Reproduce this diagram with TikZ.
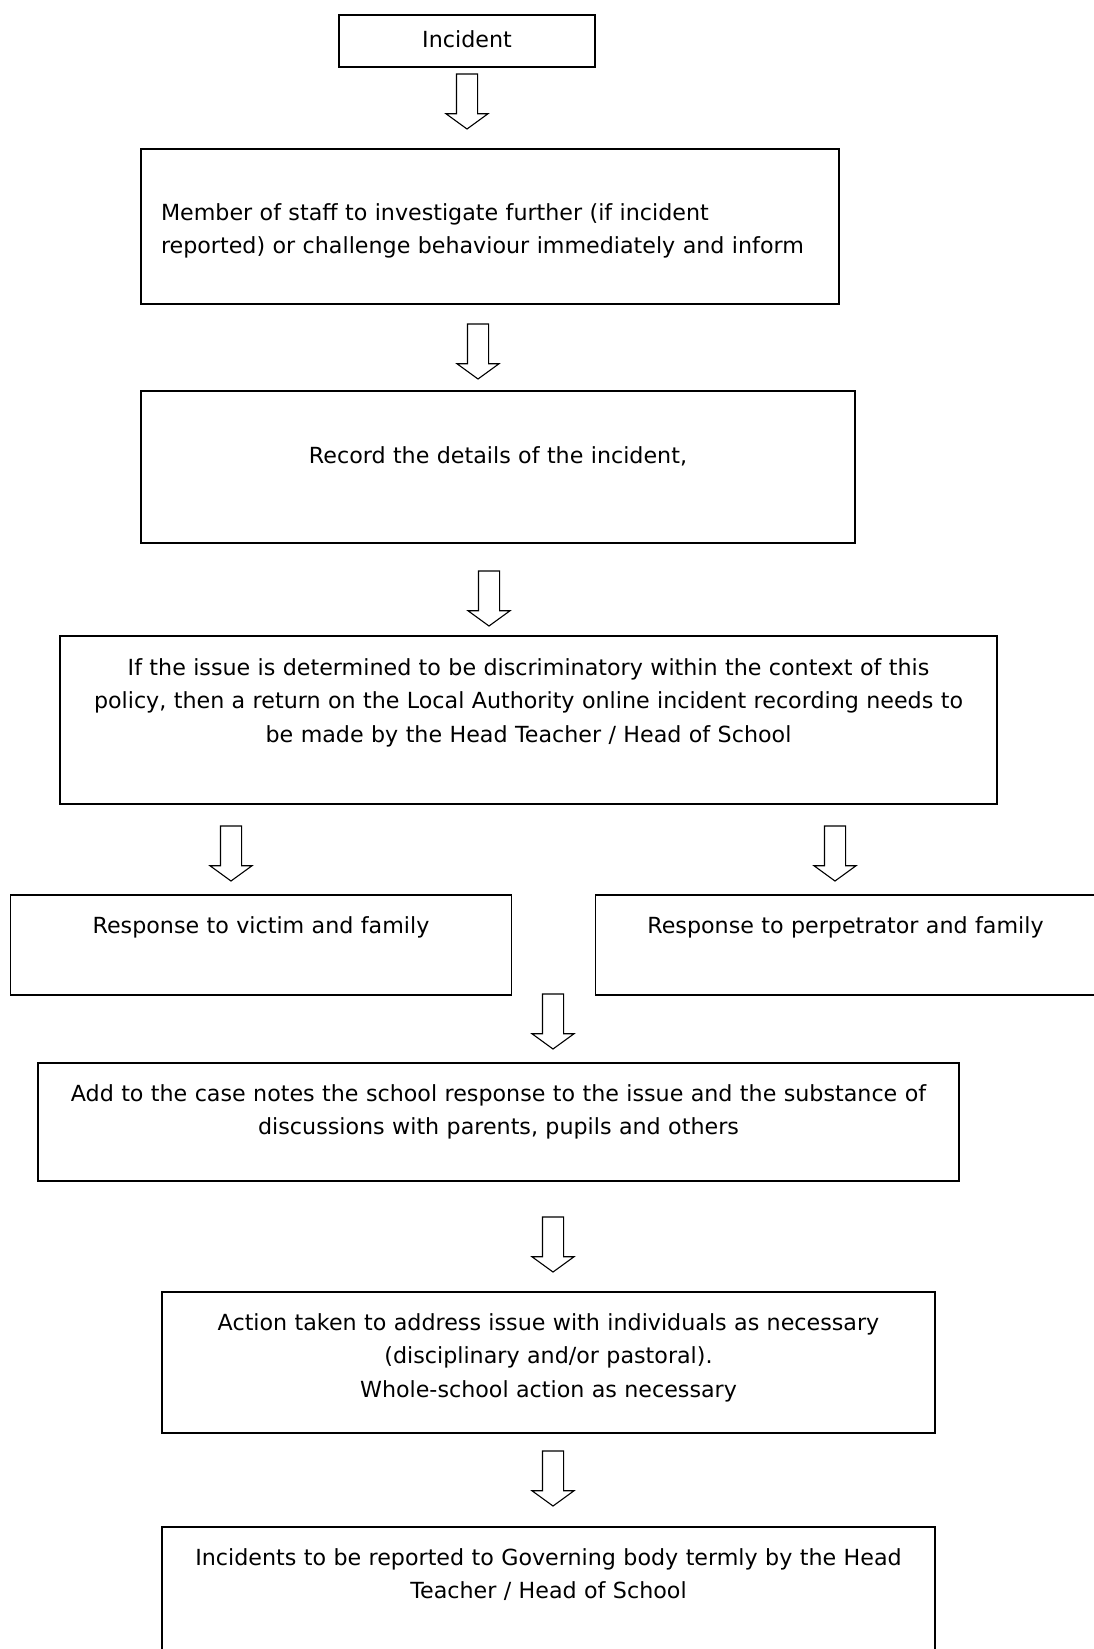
\documentclass[tikz,border=0pt]{standalone}
\usepackage{fontspec}
\setmainfont{DejaVu Sans}
\usetikzlibrary{shapes.arrows}

\begin{document}
\begin{tikzpicture}[
  x=1pt, y=-1pt,
  font=\fontsize{22.2pt}{33.5pt}\selectfont,
  block/.style={
    rectangle,
    draw=black,
    line width=1.8pt,
    anchor=north west,
    align=center,
    inner xsep=4pt,
    inner ysep=0pt,
    outer sep=0pt
  },
  blockarrow/.style={
    single arrow,
    draw=black,
    line width=1.1pt,
    rotate=-90,
    anchor=tail,
    minimum height=55pt,
    minimum width=41pt,
    single arrow head extend=10.5pt,
    single arrow tip angle=108,
    single arrow head indent=0pt,
    inner xsep=0pt,
    inner ysep=10pt,
    outer sep=0pt
  }
]
\useasboundingbox (0,0) rectangle (1094,1649);

\node[block, text width=248pt, text height=32pt, text depth=20pt] (incident) at (339,15) {Incident};
\node[block, align=left, inner xsep=20pt, text width=658pt, text height=71pt, text depth=84pt] (staff) at (141,149)
  {Member of staff to investigate further (if incident\\reported) or challenge behaviour immediately and inform};
\node[block, text width=706pt, text height=72pt, text depth=80pt] (record) at (141,391) {Record the details of the incident,};
\node[block, text width=929pt, text height=39pt, text depth=129pt] (issue) at (60,636)
  {If the issue is determined to be discriminatory within the context of this\\policy, then a return on the Local Authority online incident recording needs to\\be made by the Head Teacher / Head of School};
\node[block, text width=493pt, text height=38pt, text depth=62pt] (victim) at (10.5,895) {Response to victim and family};
\node[block, text width=492pt, text height=38pt, text depth=62pt] (perpetrator) at (595.5,895) {Response to perpetrator and family};
\node[block, text width=913pt, text height=38pt, text depth=80pt] (notes) at (38,1063)
  {Add to the case notes the school response to the issue and the substance of\\discussions with parents, pupils and others};
\node[block, text width=765pt, text height=38pt, text depth=103pt] (action) at (162,1292)
  {Action taken to address issue with individuals as necessary\\(disciplinary and/or pastoral).\\Whole-school action as necessary};
\node[block, text width=765pt, text height=38pt, text depth=135pt] (governors) at (162,1527)
  {Incidents to be reported to Governing body termly by the Head\\Teacher / Head of School};

\node[blockarrow] (a1) at (467,74) {};
\node[blockarrow] (a2) at (478,324) {};
\node[blockarrow] (a3) at (489,571) {};
\node[blockarrow] (a4) at (231,826) {};
\node[blockarrow] (a5) at (835,826) {};
\node[blockarrow] (a6) at (553,994) {};
\node[blockarrow] (a7) at (553,1217) {};
\node[blockarrow] (a8) at (553,1451) {};

\end{tikzpicture}
\end{document}
